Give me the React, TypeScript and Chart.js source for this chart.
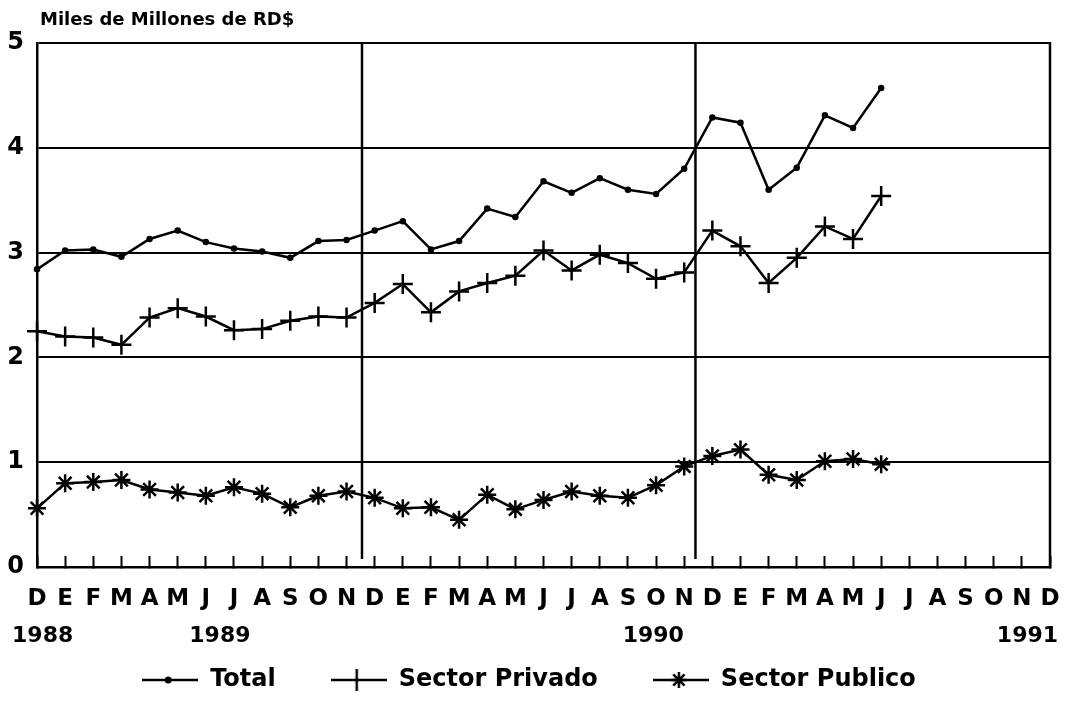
import React, { useEffect, useRef } from "react";
import { Chart, registerables } from "chart.js";

Chart.register(...registerables);

const monthLabels = ["D","E","F","M","A","M","J","J","A","S","O","N","D","E","F","M","A","M","J","J","A","S","O","N","D","E","F","M","A","M","J","J","A","S","O","N","D"];
const yearLabels = ["1988", "1989", "1990", "1991"];
const seriesNames = ["Total", "Sector Privado", "Sector Publico"];
const totalValues = [2.84,3.02,3.03,2.96,3.13,3.21,3.10,3.04,3.01,2.95,3.11,3.12,3.21,3.30,3.03,3.11,3.42,3.34,3.68,3.57,3.71,3.60,3.56,3.80,4.29,4.24,3.60,3.81,4.31,4.19,4.57];
const privadoValues = [2.25,2.20,2.19,2.12,2.38,2.47,2.39,2.26,2.27,2.35,2.39,2.38,2.52,2.70,2.43,2.63,2.71,2.78,3.02,2.83,2.98,2.90,2.75,2.81,3.21,3.06,2.71,2.95,3.25,3.13,3.54];
const publicoValues = [0.56,0.80,0.81,0.83,0.74,0.71,0.68,0.76,0.70,0.57,0.68,0.72,0.66,0.56,0.57,0.45,0.69,0.55,0.64,0.72,0.68,0.66,0.78,0.96,1.06,1.12,0.88,0.83,1.01,1.03,0.98];
const titleText = "Miles de Millones de RD$";

const FONT = "'DejaVu Sans', sans-serif";
const INK = "#000";

function makeLegendMarker(kind: string): HTMLCanvasElement {
  const c = document.createElement("canvas");
  c.width = 56;
  c.height = 26;
  const g = c.getContext("2d")!;
  g.strokeStyle = INK;
  g.fillStyle = INK;
  g.lineWidth = 2.5;
  g.beginPath();
  g.moveTo(0, 13);
  g.lineTo(56, 13);
  g.stroke();
  const cx = 26, cy = 13;
  if (kind === "circle") {
    g.beginPath();
    g.arc(cx, cy, 3.5, 0, Math.PI * 2);
    g.fill();
  } else if (kind === "cross") {
    g.beginPath();
    g.moveTo(cx, cy - 11);
    g.lineTo(cx, cy + 11);
    g.stroke();
  } else {
    const r = 8;
    g.beginPath();
    for (let k = 0; k < 4; k++) {
      const a = (k * Math.PI) / 4;
      g.moveTo(cx - r * Math.sin(a), cy - r * Math.cos(a));
      g.lineTo(cx + r * Math.sin(a), cy + r * Math.cos(a));
    }
    g.stroke();
  }
  return c;
}

const decorPlugin = {
  id: "decor",
  beforeDatasetsDraw(chart: any) {
    const { ctx, chartArea, scales } = chart;
    const x = scales.x;
    ctx.save();
    ctx.strokeStyle = INK;
    ctx.lineWidth = 2.5;
    [11.55, 23.4].forEach((v) => {
      const px = x.getPixelForValue(v);
      ctx.beginPath();
      ctx.moveTo(px, chartArea.top);
      ctx.lineTo(px, chartArea.bottom - 8);
      ctx.stroke();
    });
    ctx.beginPath();
    ctx.moveTo(chartArea.right, chartArea.top - 1);
    ctx.lineTo(chartArea.right, chartArea.bottom + 1);
    ctx.stroke();
    ctx.restore();
  },
  afterDraw(chart: any) {
    const { ctx, chartArea, scales } = chart;
    const x = scales.x;
    ctx.save();
    ctx.fillStyle = INK;
    ctx.font = `bold 18px ${FONT}`;
    ctx.textAlign = "left";
    ctx.textBaseline = "alphabetic";
    ctx.fillText(titleText, chartArea.left + 3, 17);
    ctx.font = `bold 22px ${FONT}`;
    ctx.textAlign = "center";
    const pos = [0.2, 6.5, 21.9, 35.2];
    yearLabels.forEach((t, i) => {
      ctx.fillText(t, x.getPixelForValue(pos[i]), 634);
    });
    ctx.restore();
  },
};

export default function App() {
  const ref = useRef<HTMLCanvasElement>(null);
  useEffect(() => {
    if (!ref.current) return;
    const markers = [makeLegendMarker("circle"), makeLegendMarker("cross"), makeLegendMarker("star")];
    const common = {
      borderColor: INK,
      backgroundColor: INK,
      borderWidth: 2.5,
      tension: 0,
      fill: false,
      clip: false,
      pointBorderColor: INK,
      pointBackgroundColor: INK,
      pointBorderWidth: 2.5,
    };
    const chart = new Chart(ref.current, {
      type: "line",
      data: {
        labels: monthLabels,
        datasets: [
          { ...common, label: seriesNames[0], data: totalValues, pointStyle: "circle", pointRadius: 2.5, pointBorderWidth: 1.5 },
          { ...common, label: seriesNames[1], data: privadoValues, pointStyle: "cross", pointRadius: 10 },
          { ...common, label: seriesNames[2], data: publicoValues, pointStyle: "star", pointRadius: 9 },
        ],
      },
      options: {
        animation: false,
        responsive: true,
        maintainAspectRatio: false,
        layout: { autoPadding: false, padding: { top: 35, right: 14, left: 0, bottom: 0 } },
        scales: {
          x: {
            type: "category",
            offset: false,
            grid: { drawOnChartArea: false, drawTicks: true, tickLength: -11, tickWidth: 2, tickColor: INK },
            border: { display: true, color: INK, width: 2.5 },
            ticks: {
              autoSkip: false,
              maxRotation: 0,
              minRotation: 0,
              padding: 29,
              color: INK,
              font: { family: FONT, size: 23, weight: "bold" },
            },
            afterFit: (s: any) => {
              s.height = 46;
              s.paddingLeft = 0;
              s.paddingRight = 0;
            },
          },
          y: {
            min: 0,
            max: 5,
            ticks: { stepSize: 1, padding: 13, color: INK, font: { family: FONT, size: 24, weight: "bold" } },
            grid: { color: INK, lineWidth: 2, drawTicks: false },
            border: { display: true, color: INK, width: 2.5 },
            afterFit: (s: any) => {
              s.width = 29;
            },
          },
        },
        plugins: {
          legend: {
            position: "bottom",
            labels: {
              usePointStyle: true,
              pointStyleWidth: 56,
              padding: 55,
              color: INK,
              font: { family: FONT, size: 24, weight: "bold" },
              generateLabels: (ch: any) => {
                const items = Chart.defaults.plugins.legend.labels.generateLabels(ch);
                return items.map((it: any, i: number) => ({ ...it, pointStyle: markers[i] }));
              },
            },
          },
          tooltip: { enabled: false },
        },
      },
      plugins: [decorPlugin],
    } as any);
    return () => chart.destroy();
  }, []);
  return (
    <div style={{ width: 1056, height: 694, position: "relative" }}>
      <canvas ref={ref} />
    </div>
  );
}
